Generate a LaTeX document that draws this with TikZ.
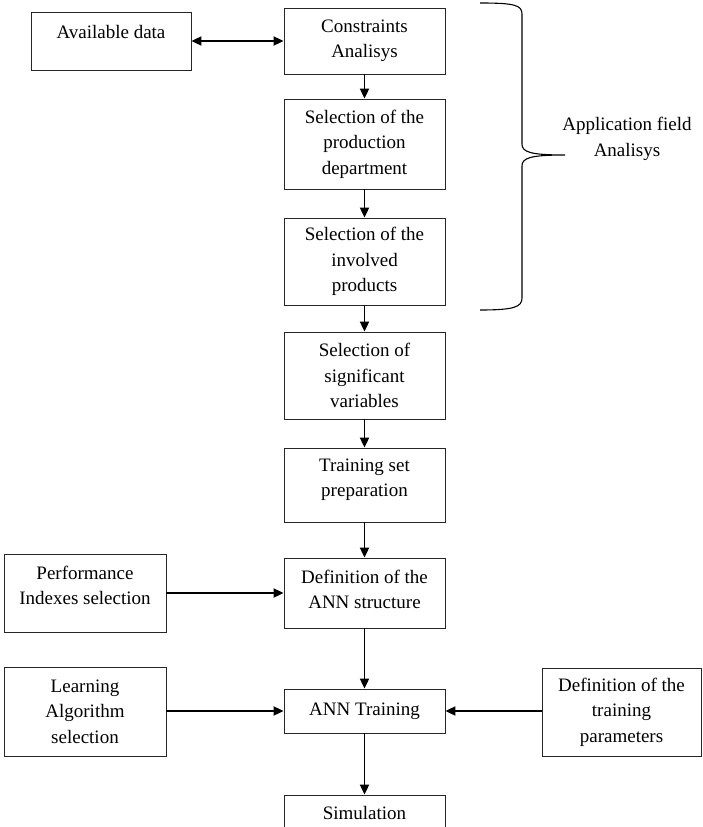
\documentclass[tikz,border=0pt]{standalone}
\usepackage{fontspec}
\setmainfont{Liberation Serif}
\usetikzlibrary{arrows.meta}
\begin{document}
\begin{tikzpicture}[x=1pt,y=-1pt,
  txt/.style={font=\fontsize{19}{25.5}\selectfont, align=center, inner sep=0pt},
  box/.style={txt, draw=black!85, line width=0.8pt, minimum width=161pt},
  arr/.style={line width=1.8pt, -{Triangle[length=10pt,width=9pt]}},
  darr/.style={line width=1.8pt, {Triangle[length=10pt,width=9pt]}-{Triangle[length=10pt,width=9pt]}},
  brace/.style={line width=1.1pt}]
\useasboundingbox (0,0) rectangle (702,827);

% main column
\node[box, minimum height=66pt] (cons) at (364.5,41) {Constraints\\Analisys};
\node[box, minimum height=90pt] (prod) at (364.5,144) {Selection of the\\production\\department};
\node[box, minimum height=87pt] (inv) at (364.5,261.5) {Selection of the\\involved\\products};
\node[box, minimum height=87pt] (sig) at (364.5,375.5) {Selection of\\significant\\variables};
\node[box, minimum height=74pt, label={[txt, name=tsettxt, yshift=5.5pt]center:{Training set\\preparation}}] (tset) at (364.5,485) {};
\node[box, minimum height=70pt, label={[txt, name=structtxt, yshift=3.5pt]center:{Definition of the\\ANN structure}}] (struct) at (364.5,593) {};
\node[box, minimum height=44pt] (train) at (364.5,711) {ANN Training};
\node[box, minimum height=60pt, label={[txt, name=simtxt, yshift=12pt]center:{Simulation}}] (sim) at (364.5,825) {};

% side boxes
\node[box, minimum width=160pt, minimum height=58pt, label={[txt, name=availtxt, yshift=9pt]center:{Available data}}] (avail) at (111,41) {};
\node[box, minimum width=162pt, minimum height=78pt, label={[txt, name=perftxt, yshift=7.5pt]center:{Performance\\Indexes selection}}] (perf) at (85,593) {};
\node[box, minimum width=162pt, minimum height=89pt] (learn) at (85,711.5) {Learning\\Algorithm\\selection};
\node[box, minimum width=159pt, minimum height=88pt] (params) at (621.5,712) {Definition of the\\training\\parameters};

% brace and its label
\coordinate (bracetop) at (480,3);
\coordinate (bracetip) at (565,155);
\coordinate (bracebot) at (480,310);
\draw[brace] (bracetop) .. controls (514,3) and (522,5) .. (522,14)
  -- (522,144) .. controls (522,152) and (530,155) .. (bracetip)
  .. controls (530,155) and (522,158) .. (522,166)
  -- (522,298) .. controls (522,307) and (514,310) .. (bracebot);
\node[txt] (appl) at (627,139) {Application field\\Analisys};

% connectors
\draw[darr] (avail) -- (cons);
\draw[arr] (cons) -- (prod);
\draw[arr] (prod) -- (inv);
\draw[arr] (inv) -- (sig);
\draw[arr] (sig) -- (tset);
\draw[arr] (tset) -- (struct);
\draw[arr] (perf) -- (struct);
\draw[arr] (struct) -- (train);
\draw[arr] (learn.east |- train) -- (train.west);
\draw[arr] (params.west |- train) -- (train.east);
\draw[arr] (train) -- (sim);
\end{tikzpicture}
\end{document}
